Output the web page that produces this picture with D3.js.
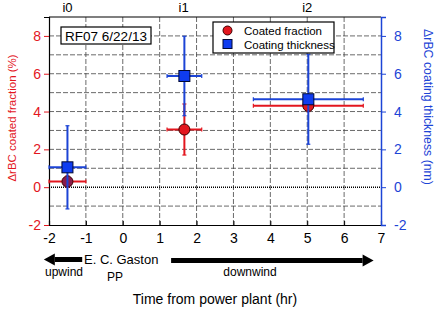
<!DOCTYPE html>
<html>
<head>
<meta charset="utf-8">
<script src="https://cdn.jsdelivr.net/npm/d3@7"></script>
<style>
  body { margin: 0; background: #fff; }
  svg { font-family: "Liberation Sans", Arial, sans-serif; }
</style>
</head>
<body>
<div id="chart"></div>
<script>
// Chart data
const intervals = ['i0', 'i1', 'i2']
const labelTimes = [-1.5, 1.65, 5.0]
const times = [-1.5, 1.67, 5.03]
const timeErr = [0.5, 0.47, 1.49]
const fraction = [0.3, 3.05, 4.3]
const fractionErr = [0.3, 1.35, 0.3]
const thickness = [1.05, 5.88, 4.65]
const thicknessErr = [2.2, 2.1, 2.38]
const xTicks = [-2, -1, 0, 1, 2, 3, 4, 5, 6, 7]
const yTicks = [-2, 0, 2, 4, 6, 8]
const gridY = [-1, 0, 1, 2, 3, 4, 5, 6, 7, 8]

const red = '#e3161e'
const blue = '#1c44d6'

var margin = { top: 17, right: 58, bottom: 95, left: 49 }
var width = 439 - margin.left - margin.right
var height = 320 - margin.top - margin.bottom

var svg = d3.select('#chart')
  .append('svg')
  .attr('width', 439)
  .attr('height', 320)

var g = svg.append('g')
  .attr('transform', `translate(${margin.left},${margin.top})`)

var x = d3.scaleLinear().domain([-2, 7]).range([0, width])
var y = d3.scaleLinear().domain([-2, 9]).range([height, 0])
var plain = d => String(d)

// grid
g.selectAll('.vgrid').data(xTicks.slice(1, -1)).enter().append('line')
  .attr('x1', d => x(d)).attr('x2', d => x(d))
  .attr('y1', 0).attr('y2', height)
  .attr('stroke', '#444').attr('stroke-width', 0.8).attr('stroke-dasharray', '5,2')
g.selectAll('.hgrid').data(gridY.filter(d => d !== 0)).enter().append('line')
  .attr('x1', 0).attr('x2', width)
  .attr('y1', d => y(d)).attr('y2', d => y(d))
  .attr('stroke', '#444').attr('stroke-width', 0.8).attr('stroke-dasharray', '5,2')

// zero line
g.append('line')
  .attr('x1', 0).attr('x2', width)
  .attr('y1', y(0)).attr('y2', y(0))
  .attr('stroke', '#000').attr('stroke-width', 1.6).attr('stroke-dasharray', '1,1')

// frame top
g.append('line').attr('x1', 0).attr('x2', width).attr('y1', 0).attr('y2', 0)
  .attr('stroke', '#000').attr('stroke-width', 1.2)

// bottom axis
var xAxis = g.append('g')
  .attr('transform', `translate(0,${height})`)
  .call(d3.axisBottom(x).tickValues(xTicks).tickSize(-4).tickPadding(8).tickFormat(plain))
xAxis.select('.domain').attr('stroke', '#000').attr('stroke-width', 1.2)
xAxis.selectAll('text').attr('font-size', 14).attr('fill', '#000')

// left axis (red)
var yLeft = g.append('g')
  .call(d3.axisLeft(y).tickValues(yTicks).tickSize(5).tickPadding(3).tickFormat(plain))
yLeft.select('.domain').attr('stroke', '#000').attr('stroke-width', 1.2)
yLeft.selectAll('line').attr('stroke', red)
yLeft.selectAll('text').attr('font-size', 14).attr('fill', red)

// right axis (blue)
var yRight = g.append('g')
  .attr('transform', `translate(${width},0)`)
  .call(d3.axisRight(y).tickValues(yTicks).tickSize(5).tickPadding(8).tickFormat(plain))
yRight.select('.domain').attr('stroke', blue).attr('stroke-width', 1.5)
yRight.selectAll('line').attr('stroke', blue)
yRight.selectAll('text').attr('font-size', 14).attr('fill', blue)

// axis titles
svg.append('text')
  .attr('transform', `translate(16,${margin.top + height / 2 - 3}) rotate(-90)`)
  .attr('text-anchor', 'middle').attr('font-size', 11.5).attr('fill', red)
  .text('ΔrBC coated fraction (%)')
svg.append('text')
  .attr('transform', `translate(424,${margin.top + height / 2 - 14}) rotate(90)`)
  .attr('text-anchor', 'middle').attr('font-size', 12.3).attr('fill', blue)
  .text('ΔrBC coating thickness (nm)')

// interval labels
g.selectAll('.ilab').data(intervals).enter().append('text')
  .attr('x', (d, i) => x(labelTimes[i])).attr('y', -5)
  .attr('text-anchor', 'middle').attr('font-size', 13)
  .text(d => d)

// error bars with small caps
function errorBars(vals, errs, color) {
  var eb = g.append('g').attr('stroke', color).attr('stroke-width', 2)
  times.forEach((t, i) => {
    eb.append('line').attr('x1', x(t - timeErr[i])).attr('x2', x(t + timeErr[i]))
      .attr('y1', y(vals[i])).attr('y2', y(vals[i]))
    eb.append('line').attr('x1', x(t)).attr('x2', x(t))
      .attr('y1', y(vals[i] - errs[i])).attr('y2', y(vals[i] + errs[i]))
    ;[t - timeErr[i], t + timeErr[i]].forEach(c => {
      eb.append('line').attr('x1', x(c)).attr('x2', x(c))
        .attr('y1', y(vals[i]) - 2).attr('y2', y(vals[i]) + 2).attr('stroke-width', 1.2)
    })
    ;[vals[i] - errs[i], vals[i] + errs[i]].forEach(c => {
      eb.append('line').attr('x1', x(t) - 2).attr('x2', x(t) + 2)
        .attr('y1', y(c)).attr('y2', y(c)).attr('stroke-width', 1.2)
    })
  })
}

errorBars(fraction, fractionErr, red)
g.selectAll('.circ').data(fraction).enter().append('circle')
  .attr('cx', (d, i) => x(times[i])).attr('cy', d => y(d)).attr('r', 5.5)
  .attr('fill', (d, i) => i === 0 ? '#8a1b4a' : red)
  .attr('stroke', '#3a0000').attr('stroke-width', 1)

errorBars(thickness, thicknessErr, blue)
g.selectAll('.sq').data(thickness).enter().append('rect')
  .attr('x', (d, i) => x(times[i]) - 5.5).attr('y', d => y(d) - 5.5)
  .attr('width', 11).attr('height', 11)
  .attr('fill', '#0f3cf0').attr('stroke', '#000833').attr('stroke-width', 1)

// RF07 box
var rf = svg.append('g')
rf.append('rect').attr('x', 61).attr('y', 27).attr('width', 90).attr('height', 17)
  .attr('fill', '#fff').attr('stroke', '#000').attr('stroke-width', 1.2)
rf.append('text').attr('x', 106).attr('y', 40.5).attr('text-anchor', 'middle')
  .attr('font-size', 13.5).text('RF07 6/22/13')

// legend
var lg = svg.append('g')
lg.append('rect').attr('x', 213).attr('y', 22).attr('width', 121).attr('height', 31)
  .attr('fill', '#fff').attr('stroke', '#000').attr('stroke-width', 1.2)
lg.append('circle').attr('cx', 227.5).attr('cy', 30.5).attr('r', 4.5)
  .attr('fill', red).attr('stroke', '#3a0000').attr('stroke-width', 1)
lg.append('rect').attr('x', 223).attr('y', 39.5).attr('width', 9).attr('height', 9)
  .attr('fill', '#0f3cf0').attr('stroke', '#000833').attr('stroke-width', 1)
lg.append('text').attr('x', 244).attr('y', 34.5).attr('font-size', 11.5).text('Coated fraction')
lg.append('text').attr('x', 244).attr('y', 48.5).attr('font-size', 11.5).text('Coating thickness')

// wind arrows
function arrow(from, to, yPos) {
  var x1 = x(from), x2 = x(to)
  var dir = Math.sign(x2 - x1)
  var head = 11
  svg.append('line')
    .attr('x1', margin.left + x1).attr('x2', margin.left + x2 - dir * head)
    .attr('y1', yPos).attr('y2', yPos)
    .attr('stroke', '#000').attr('stroke-width', 5)
  svg.append('path')
    .attr('d', `M${margin.left + x2},${yPos} L${margin.left + x2 - dir * head},${yPos - 6} L${margin.left + x2 - dir * head},${yPos + 6} Z`)
    .attr('fill', '#000')
}
arrow(-1.1, -2.14, 259.5)
arrow(1.31, 6.8, 260.5)

svg.append('text').attr('x', 84).attr('y', 264).attr('font-size', 13).text('E. C. Gaston')
svg.append('text').attr('x', 64).attr('y', 276).attr('text-anchor', 'middle').attr('font-size', 12).text('upwind')
svg.append('text').attr('x', 115).attr('y', 281).attr('text-anchor', 'middle').attr('font-size', 12).text('PP')
svg.append('text').attr('x', 250).attr('y', 276).attr('text-anchor', 'middle').attr('font-size', 12).text('downwind')
svg.append('text').attr('x', 215).attr('y', 304).attr('text-anchor', 'middle').attr('font-size', 14).text('Time from power plant (hr)')
</script>
</body>
</html>
